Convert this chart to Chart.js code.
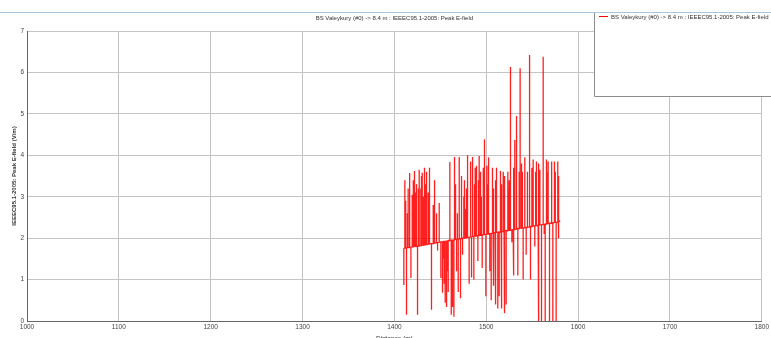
<!DOCTYPE html>
<html><head><meta charset="utf-8">
<script src="https://cdn.jsdelivr.net/npm/chart.js@4.4.0/dist/chart.umd.min.js"></script>
<style>
html,body{margin:0;padding:0;background:#fff;overflow:hidden;width:771px;height:338px;}
#wrap{position:absolute;left:0;top:0;width:771px;height:346px;}
</style>
</head><body>
<div id="wrap"><canvas id="c" width="771" height="346"></canvas></div>
<script>
const titleText = "BS Valeykury (#0) -> 8.4 m : IEEEC95.1-2005: Peak E-field";
const yAxisTitle = "IEEEC95.1-2005: Peak E-field (V/m)";
const xAxisTitle = "Distance (m)";
const xTicks = [1000, 1100, 1200, 1300, 1400, 1500, 1600, 1700, 1800];
const yTicks = [0, 1, 2, 3, 4, 5, 6, 7];

// distance of each sample (m)
const distance = [1410.3,1411.4,1412.3,1413.2,1414.1,1415.0,1416.1,1417.0,1418.0,1419.4,1420.6,1421.9,1423.0,1424.1,1425.2,1426.1,1427.0,1428.8,1429.5,1430.3,1431.7,1432.8,1434.0,1435.0,1436.8,1437.7,1438.6,1440.4,1442.3,1443.2,1444.1,1445.9,1447.0,1448.8,1450.6,1452.4,1453.3,1454.2,1455.3,1456.8,1457.7,1458.6,1460.4,1461.9,1463.3,1464.8,1465.5,1466.6,1467.7,1468.6,1469.5,1470.6,1472.0,1473.1,1474.2,1475.6,1476.3,1477.1,1478.5,1479.2,1480.0,1481.4,1482.5,1483.3,1484.0,1485.1,1486.5,1487.2,1488.0,1489.4,1490.9,1491.6,1492.3,1493.8,1494.7,1495.6,1496.8,1498.1,1499.6,1500.7,1501.6,1502.5,1503.9,1505.4,1506.8,1507.5,1508.3,1509.7,1510.5,1511.2,1512.6,1514.1,1515.5,1516.3,1517.0,1518.5,1519.4,1520.3,1521.7,1523.5,1524.2,1525.0,1526.4,1527.9,1529.3,1530.2,1531.1,1533.0,1534.4,1535.9,1536.9,1538.4,1539.3,1540.2,1542.0,1543.5,1544.9,1546.7,1547.5,1548.2,1549.7,1551.1,1552.9,1553.8,1554.7,1556.5,1557.4,1558.4,1560.2,1562.0,1563.1,1564.2,1565.6,1566.5,1567.4,1568.9,1570.7,1571.6,1572.5,1574.3,1575.2,1576.1,1577.9,1578.5,1579.0,1580.5];
// peak E-field excursion at each sample (V/m)
const field = [0.87,3.40,2.90,0.15,2.60,3.20,3.57,2.90,1.04,3.05,3.40,3.62,3.10,3.30,0.15,3.20,3.65,3.20,3.50,3.58,3.00,3.70,3.30,3.60,3.10,3.50,3.70,0.27,2.80,2.50,3.40,2.60,1.70,2.85,1.04,0.68,1.50,0.90,0.44,0.34,1.20,0.70,3.84,0.15,0.34,0.10,3.96,3.30,1.20,2.60,0.70,3.96,0.55,3.50,1.60,3.00,3.40,2.70,3.20,3.60,4.00,0.90,3.85,3.50,1.05,3.96,1.00,3.30,3.70,3.75,1.45,3.40,3.98,3.60,3.00,1.28,3.70,4.39,0.60,3.75,3.30,3.95,1.20,0.50,3.70,3.20,0.85,0.40,3.40,3.70,0.30,0.60,3.62,3.30,0.30,3.60,3.50,0.19,0.40,3.60,3.20,3.40,6.13,1.90,1.10,3.70,4.37,4.95,1.10,3.60,6.10,3.80,3.60,1.00,3.95,1.60,3.60,6.42,3.50,1.00,3.70,3.90,1.80,3.60,3.85,0.00,3.80,3.65,0.00,6.38,2.10,0.00,3.90,3.60,3.85,0.00,3.85,3.70,0.00,3.85,3.60,0.00,3.85,3.50,2.00,2.42];
// smooth (baseline) E-field level at each sample (V/m)
const baseline = [1.75,1.76,1.76,1.76,1.77,1.77,1.77,1.78,1.78,1.79,1.79,1.80,1.80,1.80,1.81,1.81,1.81,1.82,1.82,1.83,1.83,1.84,1.84,1.85,1.85,1.86,1.86,1.87,1.87,1.88,1.88,1.89,1.89,1.90,1.91,1.91,1.92,1.92,1.92,1.93,1.93,1.94,1.94,1.95,1.95,1.96,1.96,1.97,1.97,1.97,1.98,1.98,1.99,1.99,2.00,2.00,2.00,2.01,2.01,2.02,2.02,2.02,2.03,2.03,2.03,2.04,2.04,2.05,2.05,2.05,2.06,2.06,2.06,2.07,2.07,2.08,2.08,2.09,2.09,2.10,2.10,2.10,2.11,2.11,2.12,2.12,2.13,2.13,2.13,2.14,2.14,2.15,2.15,2.16,2.16,2.16,2.17,2.17,2.18,2.18,2.19,2.19,2.19,2.20,2.21,2.21,2.21,2.22,2.23,2.23,2.24,2.24,2.25,2.25,2.25,2.26,2.26,2.27,2.27,2.28,2.28,2.29,2.30,2.30,2.30,2.31,2.31,2.32,2.32,2.33,2.33,2.34,2.34,2.35,2.35,2.36,2.36,2.37,2.37,2.38,2.38,2.38,2.39,2.39,2.39,2.42];

const pts = [];
for (let i = 0; i < distance.length; i++) {
  pts.push({x: distance[i], y: baseline[i]});
  pts.push({x: distance[i], y: field[i]});
  pts.push({x: distance[i], y: baseline[i]});
}

const FONT = '"Liberation Sans", Arial, sans-serif';

const legendBox = {
  id: 'legendBox',
  afterDraw(chart) {
    const ctx = chart.ctx;
    ctx.save();
    ctx.fillStyle = '#ffffff';
    ctx.fillRect(594, 12, 177, 85);
    ctx.strokeStyle = '#8c8c8c';
    ctx.lineWidth = 1;
    ctx.beginPath();
    ctx.moveTo(594.5, 12); ctx.lineTo(594.5, 96.5); ctx.lineTo(771, 96.5);
    ctx.stroke();
    ctx.strokeStyle = '#a9c4de';
    ctx.beginPath();
    ctx.moveTo(0, 12.5); ctx.lineTo(771, 12.5);
    ctx.stroke();
    ctx.strokeStyle = '#ff0000';
    ctx.beginPath();
    ctx.moveTo(599, 16.5); ctx.lineTo(608, 16.5);
    ctx.stroke();
    ctx.fillStyle = '#333';
    ctx.font = '6px ' + FONT;
    ctx.textBaseline = 'middle';
    ctx.textAlign = 'left';
    ctx.fillText(chart.data.datasets[0].label, 611, 17);
    ctx.restore();
  }
};

new Chart(document.getElementById('c'), {
  type: 'scatter',
  data: { datasets: [{
    label: titleText,
    data: pts,
    showLine: true,
    borderColor: 'rgba(255,0,0,0.88)',
    borderWidth: 1.3,
    pointRadius: 0,
    tension: 0
  }]},
  options: {
    responsive: false,
    animation: false,
    layout: { padding: { left: 0, right: 9, top: 0, bottom: 0 } },
    plugins: {
      legend: { display: false },
      tooltip: { enabled: false },
      title: {
        display: true, text: titleText, fullSize: false,
        color: '#333', font: { family: FONT, size: 6, weight: 'normal' },
        padding: { top: 14.4, bottom: 9.4 }
      }
    },
    scales: {
      x: {
        type: 'linear', min: 1000, max: 1800,
        afterBuildTicks: s => { s.ticks = xTicks.map(v => ({value: v})); },
        afterFit: s => { s.height = 25; },
        ticks: { color: '#444', font: { family: FONT, size: 6.5 }, padding: 2, maxRotation: 0, autoSkip: false, callback: v => String(v) },
        grid: { color: '#c4c4c4', lineWidth: 1, drawTicks: false },
        border: { color: '#666', width: 1 },
        title: { display: true, text: xAxisTitle, color: '#333', font: { family: FONT, size: 6.5 }, padding: { top: 0, bottom: 3 } }
      },
      y: {
        type: 'linear', min: 0, max: 7,
        afterBuildTicks: s => { s.ticks = yTicks.map(v => ({value: v})); },
        afterFit: s => { s.width = 27; },
        ticks: { color: '#444', font: { family: FONT, size: 6.5 }, padding: 3, callback: v => String(v) },
        grid: { color: '#c4c4c4', lineWidth: 1, drawTicks: false },
        border: { color: '#666', width: 1 },
        title: { display: true, text: yAxisTitle, color: '#333', font: { family: FONT, size: 6, weight: 'bold' }, padding: { top: 10.4, bottom: 0 } }
      }
    }
  },
  plugins: [legendBox]
});
</script>
</body></html>
